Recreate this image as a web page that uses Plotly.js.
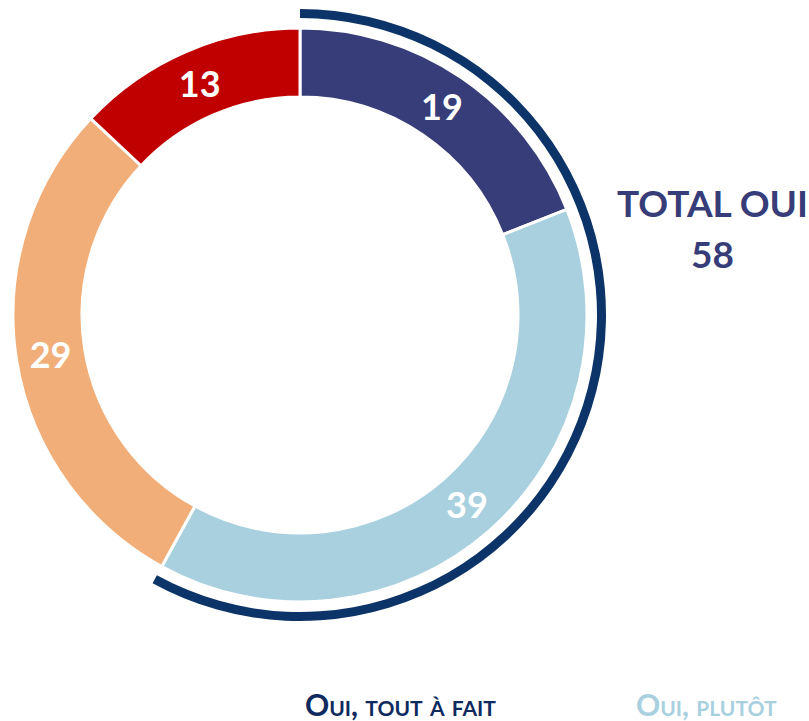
<!DOCTYPE html>
<html>
<head>
<meta charset="utf-8">
<script src="https://cdn.plot.ly/plotly-3.0.1.min.js"></script>
<style>
html,body{margin:0;padding:0;overflow:hidden;background:#fff;width:809px;height:721px;}
#chart{position:absolute;left:-20px;top:0;width:829px;height:721px;}
</style>
</head>
<body>
<div id="chart"></div>
<script>
// ---- data ----
const categories = ["Oui, tout à fait", "Oui, plutôt", "Non, plutôt pas", "Non, pas du tout"];
const values = [19, 39, 29, 13];
const sliceColors = ["#373D78", "#A9D0DF", "#F2AE79", "#C00000"];
const legendColors = ["#0E2A5E", "#A9D0DF"];
const totalLabel = "TOTAL OUI";

const totalOui = values[0] + values[1];
const rest = values[2] + values[3];

// ---- layout helpers (pixel geometry) ----
const W = 829, H = 721, OFF = 20;
const cx = 300 + OFF, cy = H - 315;
const R = 287, arcR = 306;
function dom(c, r, size){ return [(c - r) / size, (c + r) / size]; }
function px(x){ return (x + OFF) / W; }
function py(y){ return (H - y) / H; }

const font = "Lato, 'Open Sans', sans-serif";

const donut = {
  type: "pie",
  values: values,
  labels: categories,
  sort: false,
  direction: "clockwise",
  rotation: 0,
  hole: 218 / R,
  domain: {x: dom(cx, R, W), y: dom(cy, R, H)},
  marker: {colors: sliceColors, line: {color: "#ffffff", width: 3}},
  textinfo: "value",
  textposition: "inside",
  insidetextorientation: "horizontal",
  textfont: {family: font, size: 36, color: "#ffffff", weight: 700},
  hoverinfo: "skip",
  showlegend: false
};

const arc = {
  type: "pie",
  values: [totalOui, rest],
  labels: ["total oui", "reste"],
  sort: false,
  direction: "clockwise",
  rotation: 0,
  hole: 297 / arcR,
  domain: {x: dom(cx, arcR, W), y: dom(cy, arcR, H)},
  marker: {colors: ["#0D3468", "rgba(0,0,0,0)"], line: {width: 0}},
  textinfo: "none",
  hoverinfo: "skip",
  showlegend: false
};

const annotations = [
  {xref: "paper", yref: "paper", x: px(712), y: py(202), xanchor: "center", yanchor: "middle",
   text: totalLabel, showarrow: false, align: "center",
   font: {family: font, size: 37, color: "#373D78", weight: 700}},
  {xref: "paper", yref: "paper", x: px(712), y: py(254), xanchor: "center", yanchor: "middle",
   text: String(totalOui), showarrow: false, align: "center",
   font: {family: font, size: 37, color: "#373D78", weight: 700}},
  {xref: "paper", yref: "paper", x: px(303), y: py(704), xanchor: "left", yanchor: "middle",
   text: categories[0], showarrow: false,
   font: {family: font, size: 30, color: legendColors[0], weight: 700, variant: "small-caps"}},
  {xref: "paper", yref: "paper", x: px(634), y: py(704), xanchor: "left", yanchor: "middle",
   text: categories[1], showarrow: false,
   font: {family: font, size: 30, color: legendColors[1], weight: 700, variant: "small-caps"}}
];

const layout = {
  width: W, height: H,
  margin: {l: 0, r: 0, t: 0, b: 0},
  paper_bgcolor: "#ffffff",
  plot_bgcolor: "#ffffff",
  showlegend: false,
  annotations: annotations
};

Plotly.newPlot("chart", [donut, arc], layout, {displayModeBar: false, staticPlot: true});
</script>
</body>
</html>
